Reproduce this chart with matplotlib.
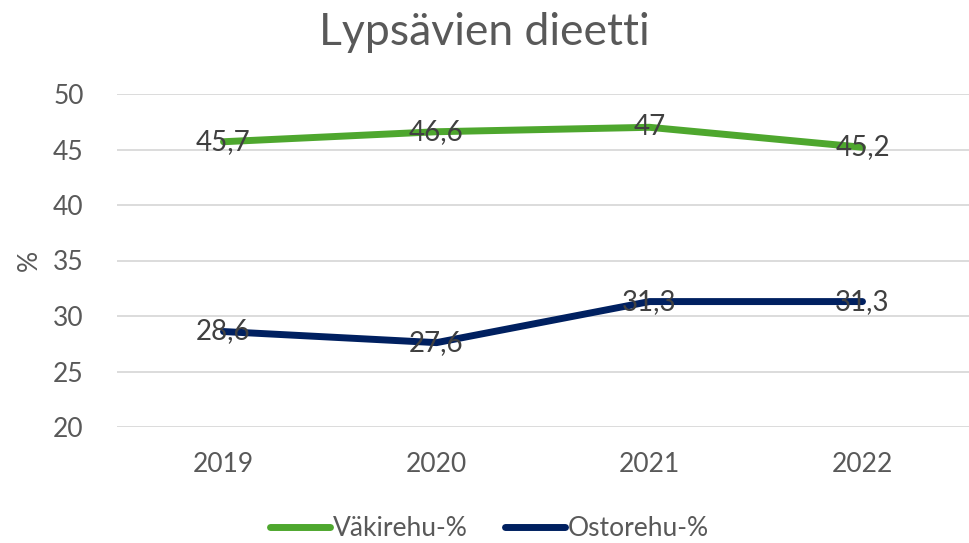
import matplotlib.pyplot as plt

years = ["2019", "2020", "2021", "2022"]
vakirehu = [45.7, 46.6, 47, 45.2]
ostorehu = [28.6, 27.6, 31.3, 31.3]
series_names = ["Väkirehu-%", "Ostorehu-%"]

plt.rcParams['font.family'] = ['Lato', 'DejaVu Sans']

fig = plt.figure(figsize=(9.69, 5.43), dpi=100)
ax = fig.add_axes([117 / 969, 1 - 427 / 543, 852 / 969, 333 / 543])

x = range(len(years))
ax.plot(x, vakirehu, color="#4EA72E", linewidth=5, solid_capstyle="round", label=series_names[0])
ax.plot(x, ostorehu, color="#002060", linewidth=5, solid_capstyle="round", label=series_names[1])

# data labels centered on the points
for i in x:
    ax.text(i, vakirehu[i], str(vakirehu[i]).replace(".", ","), ha="center", va="center",
            fontsize=20, color="#404040")
    ax.text(i, ostorehu[i], str(ostorehu[i]).replace(".", ","), ha="center", va="center",
            fontsize=20, color="#404040")

ax.set_xlim(-0.5, 3.5)
ax.set_ylim(20, 50)
ax.set_yticks(range(20, 51, 5))
ax.set_xticks(list(x))
ax.set_xticklabels(years)
ax.yaxis.grid(True, color="#D9D9D9", linewidth=1.3)
ax.set_axisbelow(True)
for s in ax.spines.values():
    s.set_visible(False)
ax.tick_params(length=0, labelsize=19, colors="#595959", pad=18)
ax.tick_params(axis="y", pad=24)
ax.set_ylabel("%", fontsize=19, color="#595959", labelpad=8)

fig.text(0.5, 0.94, "Lypsävien dieetti", ha="center", va="center", fontsize=32, color="#595959")

fig.legend(loc="center", bbox_to_anchor=(0.505, 0.027), ncol=2, frameon=False, fontsize=19,
           handlelength=2.3, handletextpad=0.1, columnspacing=1.4, labelcolor="#595959")

fig.savefig("out.png", dpi=100)
